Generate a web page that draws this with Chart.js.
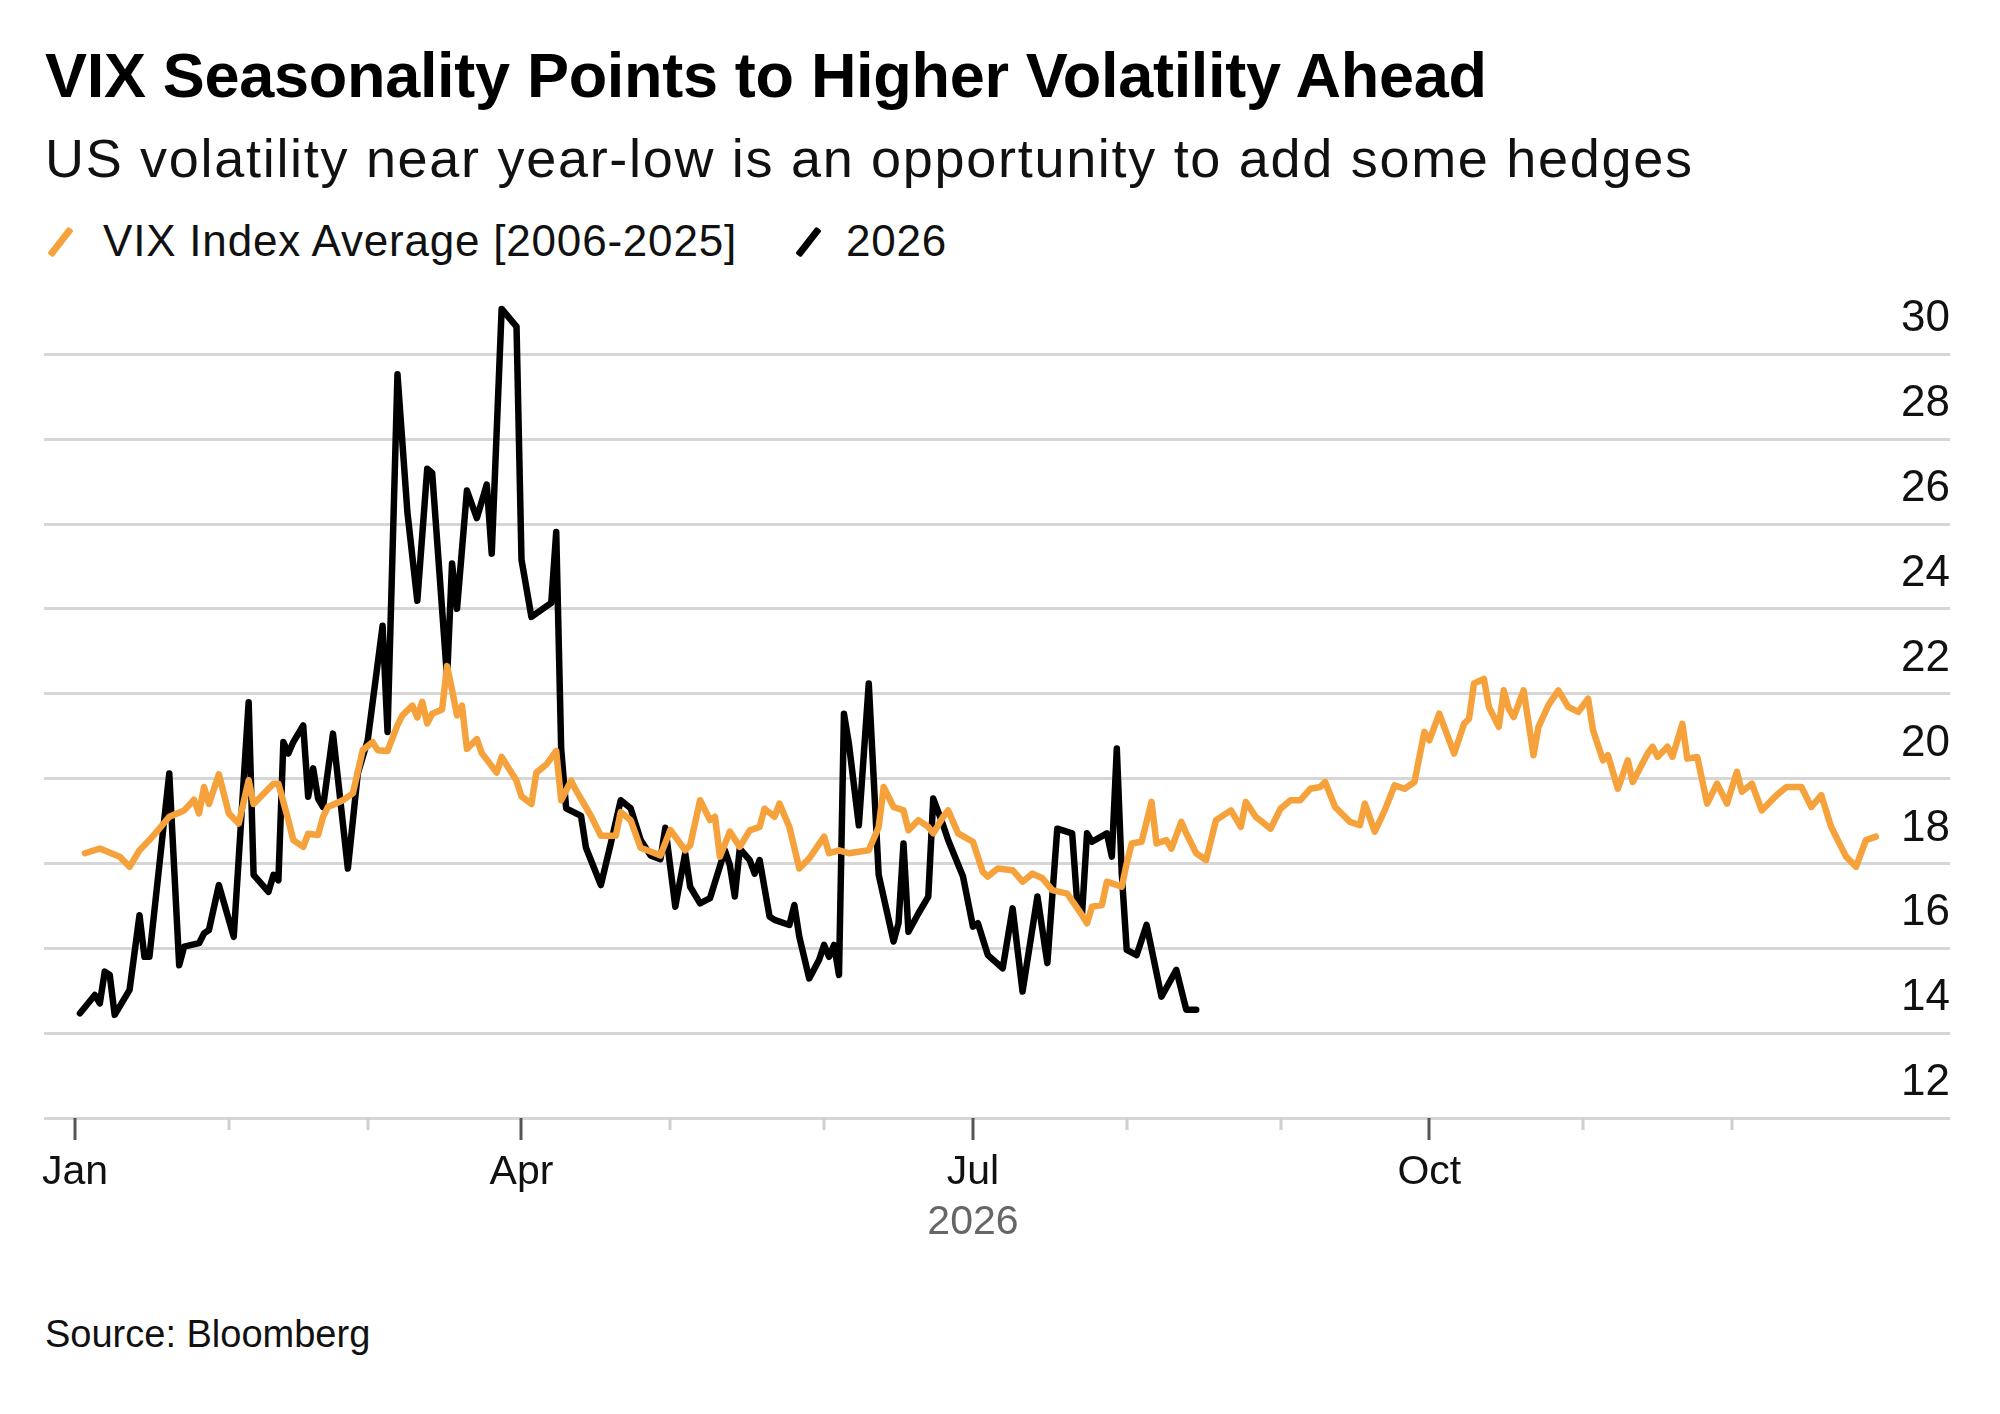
<!DOCTYPE html>
<html>
<head>
<meta charset="utf-8">
<title>VIX Seasonality</title>
<script src="https://cdn.jsdelivr.net/npm/chart.js@4.4.1/dist/chart.umd.min.js"></script>
<style>
    html, body { margin: 0; padding: 0; background: #fff; }
    body { width: 2000px; height: 1414px; position: relative; overflow: hidden; font-family: "Liberation Sans", Arial, sans-serif; color: #000; }
    .txt { position: absolute; white-space: nowrap; line-height: 1; }
    #title { left: 45px; top: 44px; font-size: 63px; font-weight: bold; letter-spacing: -0.3px; }
    #subtitle { left: 45px; top: 131px; font-size: 54px; color: #111; letter-spacing: 1.7px; }
    .legendText { top: 219px; font-size: 44px; color: #111; letter-spacing: 0.8px; }
    .slash { position: absolute; width: 7px; height: 34px; top: 225px; transform: rotate(38deg); border-radius: 2px; }
    #source { left: 45px; top: 1315px; font-size: 38px; color: #111; }
    #chartBox { position: absolute; left: 0; top: 260px; width: 2000px; height: 998px; }
</style>
</head>
<body>
<div id="title" class="txt">VIX Seasonality Points to Higher Volatility Ahead</div>
<div id="subtitle" class="txt">US volatility near year-low is an opportunity to add some hedges</div>
<span class="slash" style="left:57px; background:#f6a23c;"></span>
<div class="txt legendText" style="left:103px;">VIX Index Average [2006-2025]</div>
<span class="slash" style="left:805px; background:#000;"></span>
<div class="txt legendText" style="left:846px;">2026</div>
<div id="source" class="txt">Source: Bloomberg</div>
<div id="chartBox"><canvas id="vixChart"></canvas></div>

<script>
    // x values are days since Jan 1
    const avgDay = [2, 5, 9, 11, 13, 15, 17, 19, 22, 24, 25, 26, 27, 29, 31, 33, 35, 36, 40, 41,
        43, 44, 46, 47, 49, 50, 51, 54, 56, 58, 60, 61, 63, 65, 66, 68, 69, 70, 71, 72,
        74, 75, 76, 77, 78, 79, 81, 82, 85, 86, 89, 90, 92, 93, 95, 97, 98, 100, 101, 104,
        106, 109, 110, 112, 114, 116, 118, 120, 123, 124, 126, 128, 129, 130, 132, 134, 136, 138, 139, 141,
        142, 144, 146, 148, 151, 152, 154, 156, 160, 162, 163, 165, 167, 168, 170, 172, 173, 175, 176, 178,
        181, 183, 184, 186, 189, 191, 193, 195, 197, 200, 203, 204, 205, 207, 208, 211, 212, 213, 215, 217,
        218, 220, 221, 223, 224, 226, 228, 230, 233, 235, 236, 238, 241, 243, 245, 247, 249, 251, 252, 254,
        257, 259, 260, 262, 264, 266, 268, 270, 272, 273, 275, 278, 280, 281, 282, 284, 285, 287, 288, 289,
        290, 292, 294, 295, 297, 299, 301, 303, 305, 306, 308, 309, 311, 313, 314, 317, 318, 319, 321, 322,
        324, 325, 327, 329, 331, 333, 335, 336, 338, 340, 343, 345, 348, 350, 352, 354, 357, 359, 361, 363];
    const avgVix = [18.24, 18.35, 18.16, 17.92, 18.31, 18.55, 18.82, 19.10, 19.25, 19.50, 19.18, 19.80, 19.40, 20.10, 19.18, 18.94, 19.96, 19.40, 19.88, 19.88,
        19.02, 18.55, 18.39, 18.70, 18.67, 19.10, 19.33, 19.49, 19.65, 20.67, 20.86, 20.67, 20.65, 21.26, 21.49, 21.72, 21.44, 21.81, 21.30, 21.53,
        21.63, 22.65, 22.09, 21.49, 21.72, 20.70, 20.93, 20.60, 20.14, 20.51, 19.95, 19.58, 19.40, 20.14, 20.33, 20.65, 19.49, 19.95, 19.72, 19.12,
        18.65, 18.65, 19.21, 19.02, 18.37, 18.28, 18.19, 18.79, 18.31, 18.43, 19.49, 19.02, 19.10, 18.16, 18.75, 18.39, 18.78, 18.86, 19.29, 19.10,
        19.41, 18.86, 17.88, 18.12, 18.63, 18.24, 18.31, 18.24, 18.31, 18.86, 19.80, 19.33, 19.25, 18.78, 19.02, 18.86, 18.71, 19.10, 19.25, 18.71,
        18.51, 17.80, 17.69, 17.88, 17.84, 17.57, 17.76, 17.65, 17.37, 17.29, 16.78, 16.59, 16.98, 17.02, 17.57, 17.45, 18.00, 18.47, 18.51, 19.45,
        18.47, 18.55, 18.35, 18.98, 18.71, 18.24, 18.08, 19.02, 19.25, 18.86, 19.45, 19.10, 18.82, 19.29, 19.49, 19.49, 19.76, 19.80, 19.92, 19.33,
        18.98, 18.90, 19.41, 18.75, 19.25, 19.84, 19.76, 19.92, 21.10, 20.90, 21.53, 20.59, 21.29, 21.41, 22.24, 22.35, 21.69, 21.22, 22.08, 21.65,
        21.45, 22.08, 20.55, 21.22, 21.73, 22.08, 21.69, 21.57, 21.88, 21.14, 20.43, 20.55, 19.76, 20.43, 19.92, 20.59, 20.75, 20.51, 20.75, 20.51,
        21.29, 20.47, 20.51, 19.41, 19.88, 19.41, 20.16, 19.69, 19.88, 19.25, 19.61, 19.80, 19.80, 19.33, 19.61, 18.86, 18.16, 17.92, 18.55, 18.63];

    const ytdDay = [1, 4, 5, 6, 7, 8, 11, 13, 14, 15, 19, 21, 22, 25, 26, 27, 29, 32, 35, 36,
        39, 40, 41, 42, 43, 44, 46, 47, 48, 49, 50, 52, 55, 57, 59, 62, 63, 65, 67, 69,
        71, 72, 75, 76, 77, 79, 81, 83, 84, 86, 89, 90, 92, 96, 97, 98, 99, 102, 103, 106,
        108, 110, 112, 114, 116, 118, 119, 121, 123, 124, 126, 128, 131, 132, 133, 134, 136, 137, 138, 140,
        141, 144, 145, 146, 148, 150, 151, 152, 153, 154, 155, 156, 158, 160, 162, 165, 166, 167, 168, 170,
        172, 173, 175, 176, 179, 181, 182, 184, 187, 189, 191, 194, 196, 198, 201, 202, 203, 204, 205, 208,
        209, 210, 211, 212, 214, 216, 219, 222, 224, 226];
    const ytdVix = [14.47, 14.90, 14.70, 15.45, 15.37, 14.43, 15.02, 16.78, 15.80, 15.80, 20.12, 15.60, 16.04, 16.12, 16.35, 16.43, 17.49, 16.27, 21.80, 17.73,
        17.33, 17.73, 17.60, 20.86, 20.59, 20.86, 21.25, 19.57, 20.24, 19.53, 19.33, 21.06, 17.88, 20.12, 20.90, 23.60, 21.10, 29.53, 26.28, 24.19,
        27.30, 27.20, 22.37, 25.07, 24.00, 26.79, 26.14, 26.93, 25.30, 31.07, 30.65, 25.16, 23.81, 24.14, 25.81, 20.70, 19.30, 19.12, 18.37, 17.49,
        18.47, 19.49, 19.30, 18.56, 18.19, 18.10, 18.84, 16.98, 18.24, 17.45, 17.06, 17.18, 18.31, 17.96, 17.22, 18.35, 18.08, 17.76, 18.08, 16.75,
        16.67, 16.55, 17.02, 16.27, 15.29, 15.73, 16.08, 15.80, 16.08, 15.37, 21.53, 20.82, 18.90, 22.24, 17.73, 16.16, 16.59, 18.47, 16.39, 16.82,
        17.22, 19.53, 18.90, 18.55, 17.69, 16.51, 16.59, 15.84, 15.53, 16.94, 14.98, 17.22, 15.65, 18.82, 18.71, 17.10, 16.82, 18.71, 18.51, 18.71,
        18.16, 20.71, 17.76, 15.96, 15.84, 16.55, 14.86, 15.49, 14.55, 14.55];

    const monthStarts = [0, 31, 59, 90, 120, 151, 181, 212, 243, 273, 304, 334];
    const monthLabels = ['Jan', '', '', 'Apr', '', '', 'Jul', '', '', 'Oct', '', ''];
    const yTicks = [12, 14, 16, 18, 20, 22, 24, 26, 28, 30];
    const yearLabel = '2026';
    const yearLabelDay = 181;

    const fontFamily = '"Liberation Sans", Arial, sans-serif';

    function ToPoints(days, values) {
        return days.map(function (d, i) { return { x: d, y: values[i] }; });
    }

    // month tick marks under the axis and the year under Jul
    let monthTickPlugin = {
        id: 'monthTicks',
        afterDraw: function (chart) {
            let ctx = chart.ctx;
            let xScale = chart.scales.x;
            let bottom = chart.chartArea.bottom;
            ctx.save();
            monthStarts.forEach(function (d, i) {
                let px = Math.round(xScale.getPixelForValue(d));
                let major = monthLabels[i] !== '';
                ctx.strokeStyle = major ? '#555555' : '#cfcfcf';
                ctx.lineWidth = 3;
                ctx.beginPath();
                ctx.moveTo(px, bottom);
                ctx.lineTo(px, bottom + (major ? 22 : 12));
                ctx.stroke();
            });
            ctx.fillStyle = '#666666';
            ctx.font = '41px ' + fontFamily;
            ctx.textAlign = 'center';
            ctx.textBaseline = 'middle';
            ctx.fillText(yearLabel, xScale.getPixelForValue(yearLabelDay), bottom + 105);
            ctx.restore();
        }
    };

    function VixChart() {
        let ctx = document.getElementById('vixChart').getContext('2d');
        let chart = new Chart(ctx, {
            type: 'line',
            data: {
                datasets: [
                    {
                        label: 'VIX Index Average [2006-2025]',
                        data: ToPoints(avgDay, avgVix),
                        borderColor: '#f6a23c',
                        borderWidth: 6.5,
                        pointRadius: 0,
                        tension: 0,
                        borderJoinStyle: 'round',
                        borderCapStyle: 'round',
                        order: 0
                    },
                    {
                        label: '2026',
                        data: ToPoints(ytdDay, ytdVix),
                        borderColor: '#000000',
                        borderWidth: 6.5,
                        pointRadius: 0,
                        tension: 0,
                        borderJoinStyle: 'round',
                        borderCapStyle: 'round',
                        order: 1
                    }
                ]
            },
            options: {
                responsive: true,
                maintainAspectRatio: false,
                animation: false,
                layout: { padding: { left: 44, right: 50, top: 25, bottom: 60 } },
                plugins: {
                    legend: { display: false },
                    tooltip: { enabled: false }
                },
                scales: {
                    x: {
                        type: 'linear',
                        min: -6.25,
                        max: 377.95,
                        afterBuildTicks: function (axis) {
                            axis.ticks = monthStarts.map(function (d) { return { value: d }; });
                        },
                        afterFit: function (axis) { axis.height = 80; },
                        grid: { display: false, drawTicks: false },
                        border: { display: false },
                        ticks: {
                            autoSkip: false,
                            maxRotation: 0,
                            padding: 30,
                            color: '#111111',
                            font: { family: fontFamily, size: 41 },
                            callback: function (value) {
                                let i = monthStarts.indexOf(value);
                                return i >= 0 ? monthLabels[i] : '';
                            }
                        }
                    },
                    y: {
                        position: 'right',
                        min: 12,
                        max: 31.6,
                        afterBuildTicks: function (axis) {
                            axis.ticks = yTicks.map(function (v) { return { value: v }; });
                        },
                        afterFit: function (axis) { axis.width = 0; },
                        grid: { color: '#d6d6d6', lineWidth: 3, drawTicks: false },
                        border: { display: false },
                        ticks: {
                            mirror: true,
                            padding: 0,
                            labelOffset: -35,
                            color: '#111111',
                            font: { family: fontFamily, size: 44 }
                        }
                    }
                }
            },
            plugins: [monthTickPlugin]
        });
        return chart;
    }

    window.onload = function () {
        VixChart();
    };
</script>
</body>
</html>
